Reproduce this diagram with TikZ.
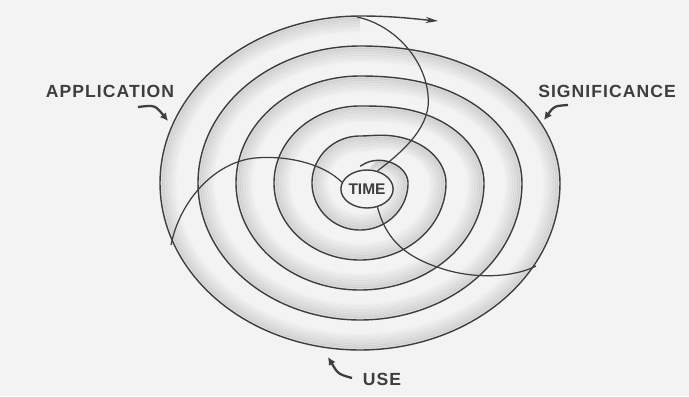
\documentclass[tikz,border=0pt]{standalone}
\usepackage{fontspec}
\setmainfont{Liberation Sans}
\usetikzlibrary{shapes.geometric, arrows.meta}
\definecolor{paper}{RGB}{243,243,243}
\definecolor{ink}{RGB}{62,62,62}
\definecolor{stipple}{RGB}{110,110,110}

\begin{document}
\begin{tikzpicture}[x=0.02cm, y=-0.02cm, >=stealth,
  declare function={
    sq(\t)=min(mod(\t,360)/90,1);
    lev(\t)=floor(\t/360)+sq(\t)*sq(\t)*(3-2*sq(\t));
    rx(\t)=10+38*lev(\t);
    ry(\t)=17+30*lev(\t);
  },
  ring/.style={draw=ink, line width=0.8pt},
  band/.style={draw=stipple, line width=1.5pt},
  thin/.style={draw=ink, line width=0.7pt},
  tag/.style={font={\fontsize{10}{12}\selectfont\bfseries\addfontfeature{LetterSpace=6}}, text=ink, inner sep=0pt},
  pointer/.style={draw=ink, line width=1.3pt, -{Latex[length=4.5pt,width=4.5pt]}}
]
  \fill[paper] (0,0) rectangle (689,396);
  \useasboundingbox (0,0) rectangle (689,396);

  % stippled band on the inner side of the spiral
  \foreach \j/\o in {1/.16, 2/.14, 3/.12, 4/.10, 5/.09, 6/.07, 7/.05, 8/.04, 9/.02} {
    \draw[band, draw opacity=\o] plot[domain=40:1800, samples=451]
      ({360+(rx(\x)-1.7*\j)*sin(\x)}, {183-(ry(\x)-1.7*\j)*cos(\x)});
  }
  \draw[ring] plot[domain=0:1800, samples=901]
    ({360+rx(\x)*sin(\x)}, {183-ry(\x)*cos(\x)});
  \coordinate (spiralEnd) at (360,16);
  \coordinate (arrowTip) at (438,21);
  \draw[ring, -{Stealth[length=7pt,width=3.5pt]}] (spiralEnd) .. controls (395,16) and (415,19) .. (arrowTip);

  \node[draw=ink, line width=0.8pt, fill=paper, ellipse, minimum width=0.94cm, minimum height=0.76cm,
    inner sep=0pt, text=ink, font={\fontsize{8.8}{10}\selectfont\bfseries}] (time) at (367,189) {TIME};

  % the three sweeps out of the centre
  \coordinate (topA) at (357,17);
  \coordinate (endB) at (171,245);
  \coordinate (endC) at (536,266);
  \draw[thin] (time.60) .. controls (405,150) and (432,125) .. (428,95) .. controls (425,60) and (395,25) .. (topA);
  \draw[thin] (time.165) .. controls (325,165) and (290,155) .. (255,158) .. controls (215,162) and (180,200) .. (endB);
  \draw[thin] (time.-60) .. controls (385,235) and (400,255) .. (440,268) .. controls (475,280) and (515,277) .. (endC);

  \node[tag] (application) at (110,91) {APPLICATION};
  \node[tag] (significance) at (607,91) {SIGNIFICANCE};
  \node[tag] (use) at (382,379) {USE};

  \coordinate (appTail) at (138,107);
  \coordinate (appTip) at (168,121);
  \coordinate (sigTail) at (568,105);
  \coordinate (sigTip) at (544,120);
  \coordinate (useTail) at (352,378);
  \coordinate (useTip) at (328,357);
  \draw[pointer] (appTail) .. controls (155,105) .. (appTip);
  \draw[pointer] (sigTail) .. controls (554,106) .. (sigTip);
  \draw[pointer] (useTail) .. controls (338,374) .. (useTip);
\end{tikzpicture}
\end{document}
